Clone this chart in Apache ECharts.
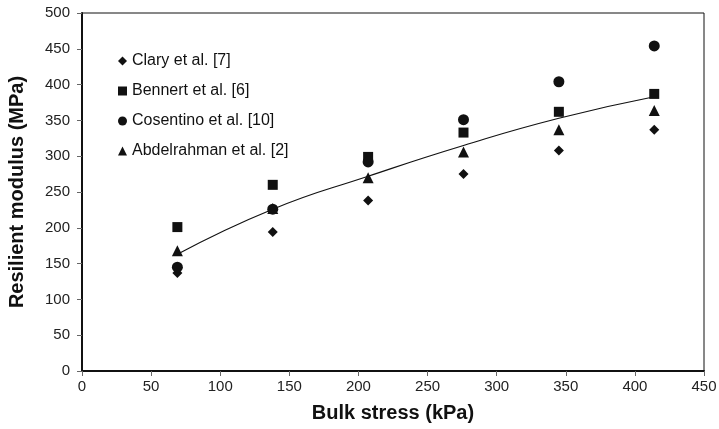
<!DOCTYPE html>
<html>
<head>
<meta charset="utf-8">
<script src="https://cdn.jsdelivr.net/npm/echarts@6/dist/echarts.min.js"></script>
<style>html,body{margin:0;padding:0;background:#fff}#c{width:719px;height:429px}</style>
</head>
<body>
<div id="c"></div>
<script>
const bulkStress = [69, 138, 207, 276, 345, 414];
const clary = [137, 194, 238, 275, 308, 337];
const bennert = [201, 260, 299, 333, 362, 387];
const cosentino = [145, 226, 292, 351, 404, 454];
const abdelrahman = [168, 227, 270, 306, 337, 364];
const trend = [163, 226, 272, 315, 353, 383];
const seriesNames = ['Clary et al. [7]', 'Bennert et al. [6]', 'Cosentino et al. [10]', 'Abdelrahman et al. [2]'];
const xTicks = [0, 50, 100, 150, 200, 250, 300, 350, 400, 450];
const yTicks = [0, 50, 100, 150, 200, 250, 300, 350, 400, 450, 500];

const pair = arr => bulkStress.map((x, i) => [x, arr[i]]);
const font = 'Liberation Sans, Arial, sans-serif';
const chart = echarts.init(document.getElementById('c'));
const symbols = ['diamond', 'rect', 'circle', 'triangle'];
const sizes = [10, 10, 11, 11];
const data = [clary, bennert, cosentino, abdelrahman];
const series = data.map((d, i) => ({
  name: seriesNames[i], type: 'scatter', symbol: symbols[i], symbolSize: sizes[i],
  itemStyle: { color: '#111', opacity: 1 }, data: pair(d), z: 3
}));
series.push({
  name: 'trend', type: 'line', smooth: true, showSymbol: false, symbol: 'none',
  lineStyle: { color: '#111', width: 1.2 }, data: pair(trend), z: 2
});
chart.setOption({
  animation: false,
  backgroundColor: '#fff',
  grid: { left: 82, right: 15, top: 13, bottom: 58, containLabel: false, outerBoundsMode: 'none',
          show: true, borderColor: '#111', borderWidth: 1 },
  legend: {
    data: seriesNames, orient: 'vertical', left: 113, top: 48, itemGap: 14,
    itemWidth: 9, itemHeight: 9,
    itemStyle: { opacity: 1 },
    textStyle: { fontFamily: font, fontSize: 16, color: '#111' }
  },
  xAxis: {
    type: 'value', min: xTicks[0], max: xTicks[xTicks.length - 1], interval: 50,
    name: 'Bulk stress (kPa)', nameLocation: 'middle', nameGap: 32,
    nameTextStyle: { fontFamily: font, fontSize: 20, fontWeight: 'bold', color: '#111' },
    axisLine: { lineStyle: { color: '#111', width: 2 } },
    axisTick: { inside: false, length: 5, lineStyle: { color: '#666' } },
    axisLabel: { fontFamily: font, fontSize: 15, color: '#222', margin: 8 },
    splitLine: { show: false }
  },
  yAxis: {
    type: 'value', min: yTicks[0], max: yTicks[yTicks.length - 1], interval: 50,
    name: 'Resilient modulus (MPa)', nameLocation: 'middle', nameGap: 55,
    nameTextStyle: { fontFamily: font, fontSize: 20, fontWeight: 'bold', color: '#111' },
    axisLine: { show: true, lineStyle: { color: '#111', width: 2 } },
    axisTick: { show: true, inside: false, length: 5, lineStyle: { color: '#666' } },
    axisLabel: { fontFamily: font, fontSize: 15, color: '#222', margin: 12 },
    splitLine: { show: false }
  },
  series: series
});
</script>
</body>
</html>
